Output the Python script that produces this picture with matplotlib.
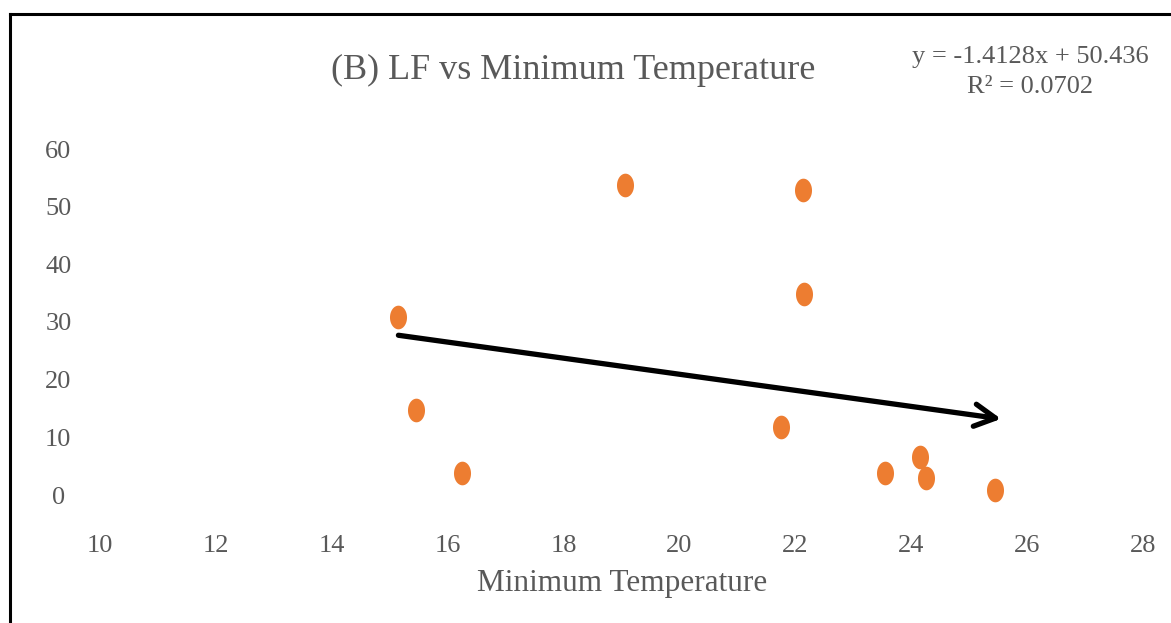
import matplotlib.pyplot as plt
import numpy as np
from matplotlib.lines import Line2D

# values
min_temp = [15.15, 15.45, 16.25, 19.06, 21.75, 22.13, 22.15, 23.55, 24.15, 24.26, 25.45]
lf = [30.8, 14.7, 3.8, 53.7, 11.8, 52.9, 34.8, 3.8, 6.6, 2.9, 0.9]
x_ticks = [10, 12, 14, 16, 18, 20, 22, 24, 26, 28]
y_ticks = [0, 10, 20, 30, 40, 50, 60]
arrow_start = (15.15, 27.7)
arrow_end = (25.55, 13.2)
title = "(B) LF vs Minimum Temperature"
x_label = "Minimum Temperature"
equation = "y = -1.4128x + 50.436\nR² = 0.0702"

plt.rcParams['font.family'] = ['Liberation Serif', 'DejaVu Serif']
gray = '#595959'
orange = '#ED7D31'

W, H = 1171, 623
fig = plt.figure(figsize=(W / 100, H / 100), dpi=100)

# axes placed in pixel terms: x 10 -> 100px, 28 -> 1143px; y 0 -> 495px, 60 -> 149px
ax = fig.add_axes([100 / W, 1 - 495 / H, (1143 - 100) / W, (495 - 149) / H])
ax.set_xlim(10, 28)
ax.set_ylim(0, 60)
for s in ax.spines.values():
    s.set_visible(False)

# elliptical marker, taller than wide
t = np.linspace(0, 2 * np.pi, 60)
ell = list(zip(0.72 * np.cos(t), np.sin(t)))
ax.scatter(min_temp, lf, marker=ell, s=290, color=orange, clip_on=False, zorder=3, linewidths=0)

ax.annotate("", xy=arrow_end, xytext=arrow_start,
            arrowprops=dict(arrowstyle="->,head_length=1.5,head_width=0.8", color='black', lw=3.8,
                            shrinkA=0, shrinkB=0), annotation_clip=False)

ax.set_xticks(x_ticks)
ax.set_xticklabels([str(v) for v in x_ticks])
ax.set_yticks(y_ticks)
ax.set_yticklabels([str(v) for v in y_ticks], ha='center')
ax.tick_params(axis='x', length=0, pad=29, labelsize=19, labelcolor=gray)
ax.tick_params(axis='y', length=0, pad=30, labelsize=19, labelcolor=gray)

fig.text(573 / W, 1 - 70 / H, title, ha='center', va='center', fontsize=26, color=gray)
fig.text(622 / W, 1 - 584 / H, x_label, ha='center', va='center', fontsize=22.5, color=gray)
fig.text(1030 / W, 1 - 72 / H, equation, ha='center', va='center', fontsize=19, color=gray,
         linespacing=1.45)

# frame lines on top and left like the cropped source
fig.add_artist(Line2D([10 / W, 10 / W], [0, 1 - 14 / H], color='black', lw=2.2))
fig.add_artist(Line2D([10 / W, 1], [1 - 14 / H, 1 - 14 / H], color='black', lw=2.2))

fig.savefig("out.png", dpi=100)
